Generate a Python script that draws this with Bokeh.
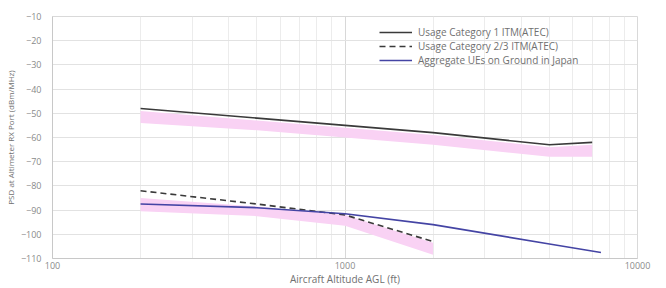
from bokeh.plotting import figure
from bokeh.models import FixedTicker, Legend, LegendItem, Range1d
from bokeh.embed import file_html
from bokeh.resources import INLINE

# ---- data ----
alt_cat1 = [200, 500, 1000, 2000, 5000, 7000]
psd_cat1 = [-48, -52, -55, -58, -63, -62]
band1_upper = [-49, -53, -56, -59, -64, -63]
band1_lower = [-54, -57, -60, -63, -68, -68]

alt_cat23 = [200, 500, 1000, 2000]
psd_cat23 = [-82, -87.5, -92, -103]
band2_upper = [-85, -88.5, -92, -103.5]
band2_lower = [-90.5, -92.5, -96.5, -108.5]

alt_ue = [200, 500, 1000, 2000, 5000, 7500]
psd_ue = [-87.5, -89, -91.5, -96, -104, -107.5]

y_ticks = [-110, -100, -90, -80, -70, -60, -50, -40, -30, -20, -10]
x_ticks = [100, 1000, 10000]
x_minor = [200, 300, 400, 500, 600, 700, 800, 900,
           2000, 3000, 4000, 5000, 6000, 7000, 8000, 9000]

series_names = ["Usage Category 1 ITM(ATEC)",
                "Usage Category 2/3 ITM(ATEC)",
                "Aggregate UEs on Ground in Japan"]

FONT = "Open Sans"
pink = "#f9d2f4"

W, H = 666, 288
LEFT, RIGHT, TOP, BOTTOM = 52, 29, 16, 29
frame_h = H - TOP - BOTTOM

p = figure(width=W, height=H, x_axis_type="log",
           x_range=Range1d(100, 10000), y_range=Range1d(-110, -10),
           output_backend="svg", toolbar_location=None,
           min_border_left=LEFT, min_border_right=RIGHT,
           min_border_top=TOP, min_border_bottom=BOTTOM)

p.background_fill_color = "white"
p.border_fill_color = "white"
p.outline_line_color = "#d9d9d9"
p.styles = {"outline": "1px solid #e2e2e2", "outline-offset": "-4px"}

# bands
p.varea(x=alt_cat1, y1=band1_lower, y2=band1_upper, fill_color=pink, fill_alpha=1)
p.varea(x=alt_cat23, y1=band2_lower, y2=band2_upper, fill_color=pink, fill_alpha=1)

# lines
r1 = p.line(alt_cat1, psd_cat1, line_color="#3a3a3a", line_width=1.6)
r2 = p.line(alt_cat23, psd_cat23, line_color="#3a3a3a", line_width=1.6, line_dash="6 4")
r3 = p.line(alt_ue, psd_ue, line_color="#4444a4", line_width=1.6)

legend = Legend(items=[LegendItem(label=series_names[0], renderers=[r1]),
                       LegendItem(label=series_names[1], renderers=[r2]),
                       LegendItem(label=series_names[2], renderers=[r3])],
                location=(327, frame_h - 52))
legend.padding = 0
legend.margin = 0
legend.spacing = 0
legend.border_line_color = None
legend.background_fill_alpha = 0
legend.glyph_width = 33
legend.glyph_height = 10
legend.label_height = 10
legend.label_standoff = 6
legend.label_text_font = FONT
legend.label_text_font_size = "10px"
legend.label_text_color = "#707070"
p.add_layout(legend)

# axes
p.xaxis.ticker = FixedTicker(ticks=x_ticks, minor_ticks=x_minor)
p.yaxis.ticker = FixedTicker(ticks=y_ticks)
p.xaxis.major_label_overrides = {100: "100", 1000: "1000", 10000: "10000"}
for ax in (p.xaxis, p.yaxis):
    ax.major_tick_out = 0
    ax.major_tick_in = 0
    ax.minor_tick_out = 0
    ax.minor_tick_in = 0
    ax.axis_line_color = "#c8c8c8"
    ax.major_label_text_font = FONT
    ax.major_label_text_font_size = "9px"
    ax.major_label_text_color = "#8a8a8a"
    ax.axis_label_text_font = FONT
    ax.axis_label_text_font_style = "normal"
    ax.axis_label_text_color = "#707070"

p.xaxis.axis_label = "Aircraft Altitude AGL (ft)"
p.xaxis.axis_label_text_font_size = "10px"
p.xaxis.major_label_standoff = 3
p.xaxis.axis_label_standoff = 0
p.yaxis.axis_label = "PSD at Altimeter RX Port (dBm/MHz)"
p.yaxis.axis_label_text_font_size = "8px"
p.yaxis.major_label_standoff = 11
p.yaxis.axis_label_standoff = 2

# grids
p.ygrid.grid_line_color = "#e2e2e2"
p.xgrid.grid_line_color = "#d8d8d8"
p.xgrid.minor_grid_line_color = "#ececec"

open("out.html", "w").write(file_html(p, INLINE))
